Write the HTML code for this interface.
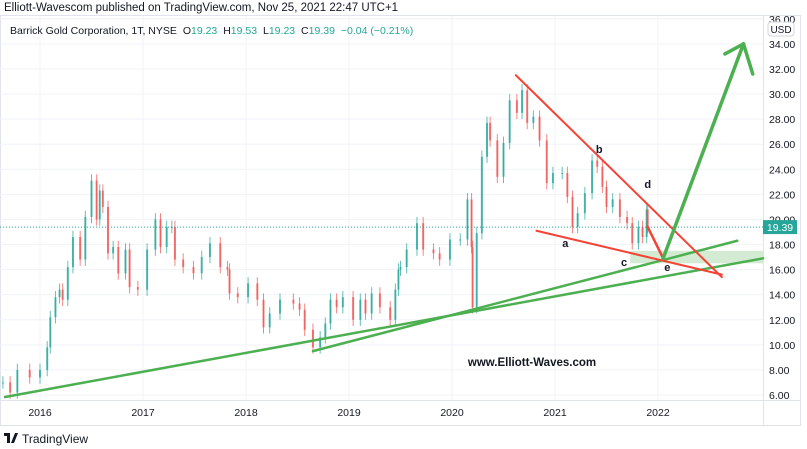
<!DOCTYPE html>
<html><head><meta charset="utf-8">
<style>
body{margin:0;width:807px;height:449px;background:#fff;overflow:hidden;font-family:"Liberation Sans",sans-serif;}
svg{display:block}
</style></head>
<body>
<svg id="chart" width="807" height="449" viewBox="0 0 807 449" font-family="Liberation Sans, sans-serif">
</svg>
<script>
const dates=[2015.64,2015.71,2015.78,2015.90,2016.00,2016.07,2016.10,2016.15,2016.19,2016.22,2016.27,2016.32,2016.39,2016.44,2016.50,2016.55,2016.58,2016.61,2016.66,2016.71,2016.76,2016.83,2016.87,2016.95,2017.04,2017.12,2017.17,2017.23,2017.28,2017.31,2017.39,2017.49,2017.57,2017.65,2017.75,2017.82,2017.84,2017.92,2018.02,2018.11,2018.17,2018.23,2018.33,2018.46,2018.52,2018.57,2018.65,2018.72,2018.77,2018.82,2018.88,2018.94,2019.04,2019.11,2019.16,2019.22,2019.30,2019.40,2019.45,2019.48,2019.50,2019.56,2019.66,2019.72,2019.82,2019.88,2019.98,2020.08,2020.15,2020.19,2020.20,2020.24,2020.29,2020.34,2020.37,2020.44,2020.50,2020.56,2020.63,2020.68,2020.73,2020.79,2020.85,2020.92,2020.98,2021.07,2021.12,2021.17,2021.22,2021.29,2021.36,2021.41,2021.46,2021.50,2021.56,2021.63,2021.70,2021.75,2021.81,2021.85,2021.89,2021.90];
const closes=[7.0,6.2,8.0,7.4,8.0,9.8,12.2,13.8,14.4,13.6,16.2,18.6,16.8,20.2,23.1,20.0,22.3,21.0,17.3,17.8,15.7,17.6,14.6,14.4,17.6,20.0,17.8,19.4,19.4,16.8,16.2,15.7,17.0,18.1,16.2,16.0,14.1,13.8,14.9,13.6,11.4,12.5,13.6,13.3,12.8,11.2,9.8,10.6,11.7,13.6,13.0,13.8,12.0,13.6,12.5,14.1,13.0,12.0,14.4,16.0,16.2,17.6,19.7,17.6,17.3,16.8,18.4,18.4,21.6,17.8,13.0,18.9,25.0,27.7,26.3,23.4,26.1,29.5,28.5,30.3,27.7,28.2,26.3,22.9,23.7,23.7,21.8,19.4,20.5,22.1,24.7,24.2,22.6,21.0,21.6,20.2,19.7,18.1,19.4,18.6,20.8,19.4];
const priceTicks=[6,8,10,12,14,16,18,20,22,24,26,28,30,32,34,36];
const yearTicks=[2016,2017,2018,2019,2020,2021,2022];
const lastPrice=19.39;

const svg=document.getElementById('chart');
const NS='http://www.w3.org/2000/svg';
const X=t=>40+(t-2016)*103;
const Y=p=>395-(p-6)*12.54;
function mk(tag,attrs,parent){const e=document.createElementNS(NS,tag);for(const k in attrs)e.setAttribute(k,attrs[k]);(parent||svg).appendChild(e);return e;}

let t=mk('text',{x:4,y:11,'font-size':11.5,fill:'#131722'});t.textContent='Elliott-Wavescom published on TradingView.com, Nov 25, 2021 22:47 UTC+1';


let fr=mk('rect',{x:0.5,y:15.5,width:800,height:410,fill:'none',stroke:'#e0e3eb'});


mk('line',{x1:763.5,y1:16,x2:763.5,y2:425,stroke:'#e0e3eb'});
mk('line',{x1:0,y1:400.5,x2:800,y2:400.5,stroke:'#e0e3eb'});

const gg=mk('g',{});


priceTicks.forEach(p=>{const y=Y(p);if(y>16&&y<400)mk('line',{x1:0,x2:763,y1:y,y2:y,stroke:'#f0f3fa'},gg);});
yearTicks.forEach(yr=>mk('line',{x1:X(yr),x2:X(yr),y1:16,y2:400,stroke:'#f0f3fa'},gg));

const ya=mk('g',{'font-size':10.5,fill:'#131722'});


priceTicks.forEach(p=>{const e=mk('text',{x:769,y:Y(p)+4},ya);e.textContent=p.toFixed(2);});
const xa=mk('g',{'font-size':10.5,fill:'#131722','text-anchor':'middle'});


yearTicks.forEach(yr=>{const e=mk('text',{x:X(yr),y:416},xa);e.textContent=yr;});
const ub=mk('rect',{x:768,y:22,width:26,height:14,rx:3,fill:'#fff',stroke:'#d1d4dc'});


t=mk('text',{x:781,y:33,'font-size':10,'text-anchor':'middle',fill:'#131722'});t.textContent='USD';

const ly=Y(lastPrice);
const lpl=mk('line',{x1:0,x2:763,y1:ly,y2:ly,stroke:'#26a69a','stroke-dasharray':'1,2','stroke-width':1});


const lpb=mk('rect',{x:763,y:ly-7,width:34,height:14,fill:'#26a69a'});


t=mk('text',{x:780,y:ly+4,'font-size':10.5,'text-anchor':'middle',fill:'#fff'});t.textContent=lastPrice.toFixed(2);

const gz=mk('rect',{x:X(2021.73),y:Y(17.5),width:763-X(2021.73),height:Y(16.5)-Y(17.5),fill:'#d4ebd3'});



const cg=mk('g',{});


closes.forEach((c,i)=>{
  const o=i?closes[i-1]:c;
  const up=c>=o;
  const col=up?'#26a69a':'#ef5350';
  const x=X(dates[i]);
  const hi=Math.max(o,c)+0.5, lo=Math.min(o,c)-0.5;
  const g=mk('g',{},cg);
  
  
  mk('line',{x1:x,x2:x,y1:Y(hi),y2:Y(lo),stroke:col,'stroke-width':1,opacity:0.7},g);
  mk('rect',{x:x-1,y:Y(Math.max(o,c)),width:2,height:Math.max(1,Math.abs(Y(o)-Y(c))),fill:col,opacity:0.75},g);
});

function seg(a,b,col,w,name){const e=mk('line',{x1:X(a[0]),y1:Y(a[1]),x2:X(b[0]),y2:Y(b[1]),stroke:col,'stroke-width':w,'stroke-linecap':'round'});return e;}
const G='#4caf50',R='#f44336';
seg([2015.66,5.84],[2023.02,16.9],G,2.5,'long-support-trendline');
seg([2018.65,9.5],[2022.77,18.3],G,2.5,'short-support-trendline');
seg([2020.62,31.5],[2022.62,15.4],R,2,'triangle-upper-line');
seg([2020.82,19.1],[2022.62,15.6],R,2,'triangle-lower-line');
seg([2021.90,19.4],[2022.05,16.9],R,2.5,'wave-e-arrow');
seg([2022.05,16.9],[2022.83,34.0],G,3.5,'breakout-arrow');
seg([2022.83,34.0],[2022.65,33.2],G,3.5,'breakout-arrowhead-left');
seg([2022.83,34.0],[2022.92,31.6],G,3.5,'breakout-arrowhead-right');

[['a',2021.10,17.8],['b',2021.43,25.3],['c',2021.67,16.3],['d',2021.90,22.5],['e',2022.09,15.9]].forEach(l=>{
  const e=mk('text',{x:X(l[1]),y:Y(l[2]),'font-size':11,'font-weight':'bold',fill:'#131722','text-anchor':'middle'});
  e.textContent=l[0];
  
  
});
t=mk('text',{x:532,y:366,'font-size':11.5,'font-weight':'bold',fill:'#131722','text-anchor':'middle'});t.textContent='www.Elliott-Waves.com';



const lg=mk('text',{x:10,y:34,'font-size':10.5,fill:'#131722'});


lg.innerHTML='Barrick Gold Corporation, 1T, NYSE <tspan dx="3">O</tspan><tspan fill="#26a69a">19.23</tspan> <tspan dx="3">H</tspan><tspan fill="#26a69a">19.53</tspan> <tspan dx="3">L</tspan><tspan fill="#26a69a">19.23</tspan> <tspan dx="3">C</tspan><tspan fill="#26a69a">19.39</tspan> <tspan dx="3" fill="#26a69a">−0.04 (−0.21%)</tspan>';

const lo=mk('g',{});


mk('path',{d:'M4 433h6v10h-3v-7h-3z M11 443l4-10h3l-4 10z',fill:'#131722'},lo);
t=mk('text',{x:22,y:443,'font-size':12,fill:'#131722'},lo);t.textContent='TradingView';
</script>
</body></html>
